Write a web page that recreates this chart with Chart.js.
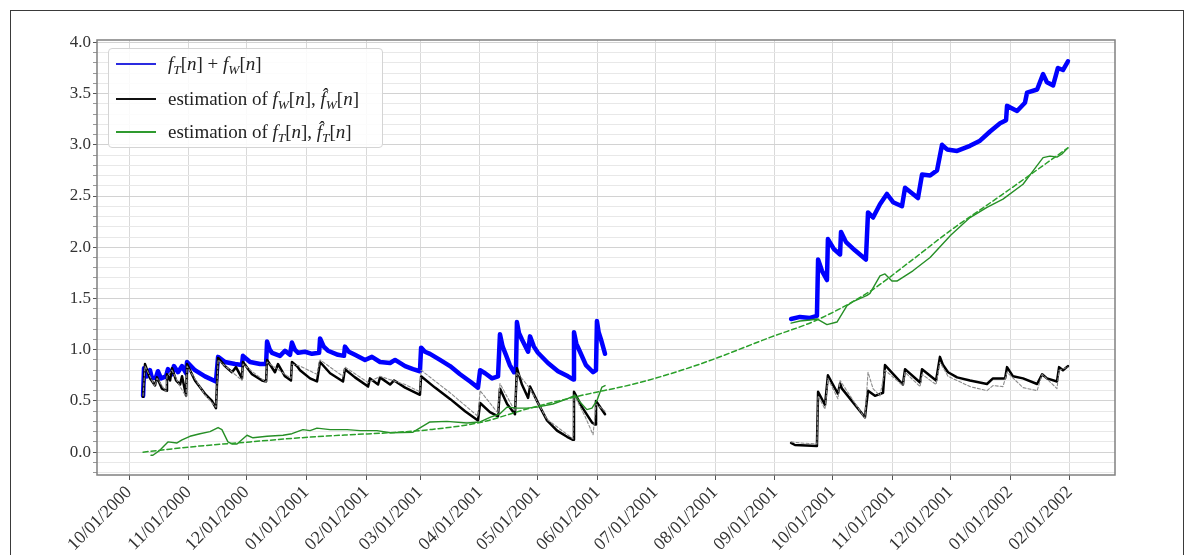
<!DOCTYPE html>
<html>
<head>
<meta charset="utf-8">
<title>f_T + f_W decomposition</title>
<script src="https://cdn.jsdelivr.net/npm/chart.js@4.4.0/dist/chart.umd.min.js"></script>
<style>
  html, body { margin: 0; padding: 0; background: #fff; }
  #wrap { position: relative; width: 1194px; height: 555px; overflow: hidden; }
  #frame { position: absolute; left: 10px; top: 10px; width: 1174px; height: 620px;
           border: 1.5px solid #3a3a3a; box-sizing: border-box; }
  #chart { position: absolute; left: 0; top: 0; }
  #legend { position: absolute; left: 108px; top: 48px; width: 275px; height: 100px;
            border: 1px solid #d4d4d4; border-radius: 4px; background: rgba(255,255,255,0.85);
            font-family: "Liberation Serif", serif; font-size: 19px; color: #222; box-sizing: border-box; }
  #legend .row { position: absolute; left: 0; height: 24px; line-height: 24px; white-space: nowrap; }
  #legend .swatch { position: absolute; left: 7px; top: 11px; width: 40px; height: 1.5px; }
  #legend .lbl { position: absolute; left: 59px; top: 0; }
  #legend sub { font-size: 0.7em; vertical-align: -0.3em; line-height: 0; }
</style>
</head>
<body>
<div id="wrap">
  <div id="frame"></div>
  <canvas id="chart" width="1194" height="555"></canvas>
  <div id="legend">
    <div class="row" style="top:3px"><span class="swatch" style="background:#2b2be0"></span>
      <span class="lbl"><i>f</i><sub><i>T</i></sub>[<i>n</i>] + <i>f</i><sub><i>W</i></sub>[<i>n</i>]</span></div>
    <div class="row" style="top:38px"><span class="swatch" style="background:#111"></span>
      <span class="lbl">estimation of <i>f</i><sub><i>W</i></sub>[<i>n</i>], <i>f&#770;</i><sub><i>W</i></sub>[<i>n</i>]</span></div>
    <div class="row" style="top:71px"><span class="swatch" style="background:#2f9a2f"></span>
      <span class="lbl">estimation of <i>f</i><sub><i>T</i></sub>[<i>n</i>], <i>f&#770;</i><sub><i>T</i></sub>[<i>n</i>]</span></div>
  </div>
</div>
<script>
// x values are days counted from 10/01/2000
const xTickLabels = ["10/01/2000", "11/01/2000", "12/01/2000", "01/01/2001", "02/01/2001",
  "03/01/2001", "04/01/2001", "05/01/2001", "06/01/2001", "07/01/2001", "08/01/2001",
  "09/01/2001", "10/01/2001", "11/01/2001", "12/01/2001", "01/01/2002", "02/01/2002"];
const yTickLabels = ["0.0", "0.5", "1.0", "1.5", "2.0", "2.5", "3.0", "3.5", "4.0"];

// f_T[n] + f_W[n]  (blue)
const sumPart1 = [[7.3,0.55],[7.8,0.82],[9.3,0.74],[10.9,0.80],[11.9,0.72],[14.0,0.73],[15.0,0.79],[16.6,0.72],
  [19.2,0.74],[20.2,0.81],[22.3,0.76],[23.3,0.84],[25.4,0.78],[27.5,0.84],[29.6,0.77],[30.1,0.88],[34.2,0.80],
  [39.4,0.74],[45.1,0.69],[46.2,0.93],[49.8,0.88],[55.0,0.86],[58.6,0.85],[59.1,0.94],[62.8,0.88],[68.0,0.86],
  [71.1,0.86],[71.6,1.08],[73.0,1.00],[74.2,0.97],[78.3,0.94],[80.9,0.99],[83.5,0.95],[84.5,1.07],[86.0,1.00],
  [87.7,0.97],[91.3,0.98],[94.9,0.96],[98.6,0.97],[99.1,1.11],[101.0,1.03],[103.2,0.99],[108.4,0.95],[111.5,0.94],
  [112.0,1.03],[114.0,0.98],[117.2,0.95],[122.4,0.90],[126.0,0.93],[130.2,0.88],[135.4,0.87],[138.0,0.90],
  [143.2,0.84],[147.3,0.81],[150.9,0.79],[151.5,1.02],[153.5,0.98],[156.1,0.96],[161.3,0.90],[166.5,0.84],
  [171.7,0.76],[176.9,0.69],[181.0,0.63],[182.1,0.80],[184.7,0.77],[188.3,0.72],[191.4,0.74],[192.4,1.15],
  [193.8,1.03],[195.5,0.95],[197.5,0.85],[199.7,0.78],[200.7,0.80],[201.2,1.27],[202.3,1.16],[203.8,1.10],
  [207.0,0.98],[208.0,1.13],[210.0,1.03],[212.1,0.97],[217.3,0.87],[222.5,0.79],[227.7,0.74],[230.3,0.71],
  [230.8,1.17],[232.0,1.06],[233.9,0.98],[237.0,0.85],[240.7,0.78],[242.2,0.80],[242.7,1.28],[243.6,1.17],
  [244.8,1.10],[246.9,0.96]];
const sumPart2 = [[343.4,1.30],[348.0,1.32],[353.2,1.31],[356.8,1.33],[357.4,1.88],[359.4,1.77],[362.0,1.68],
  [362.5,2.08],[365.7,1.98],[368.8,1.93],[369.3,2.15],[371.9,2.05],[376.5,1.97],[382.2,1.88],[383.3,2.34],
  [385.9,2.29],[389.5,2.42],[393.1,2.52],[396.3,2.44],[400.9,2.40],[402.5,2.58],[406.6,2.52],[409.2,2.48],
  [411.3,2.71],[415.5,2.70],[419.1,2.75],[421.7,3.00],[424.3,2.955],[429.5,2.94],[436.2,2.99],[441.4,3.04],
  [446.6,3.13],[451.8,3.21],[454.9,3.24],[455.4,3.38],[460.6,3.33],[464.7,3.41],[465.8,3.51],[471.0,3.54],
  [474.1,3.69],[476.1,3.61],[479.3,3.58],[481.8,3.75],[484.4,3.73],[487.0,3.815]];

// estimation of f_W[n] (black)
const estWPart1 = [[7.3,0.54],[8.3,0.86],[10.9,0.72],[13.5,0.65],[14.5,0.73],[17.1,0.62],[19.2,0.60],[19.7,0.76],
  [21.3,0.70],[22.3,0.82],[24.4,0.70],[26.5,0.66],[27.5,0.74],[29.6,0.55],[30.1,0.86],[34.2,0.70],[39.4,0.57],
  [43.0,0.50],[45.1,0.43],[46.2,0.92],[49.8,0.84],[53.4,0.78],[55.5,0.83],[58.6,0.72],[59.1,0.88],[63.8,0.76],
  [69.0,0.70],[71.1,0.69],[71.6,0.90],[75.7,0.78],[77.3,0.86],[80.9,0.74],[84.0,0.70],[84.5,0.88],[87.1,0.84],
  [88.7,0.80],[93.9,0.72],[97.5,0.69],[99.1,0.88],[104.3,0.77],[111.0,0.69],[112.0,0.81],[117.2,0.73],
  [124.0,0.64],[125.0,0.72],[129.2,0.66],[130.2,0.73],[135.4,0.66],[137.5,0.70],[143.2,0.63],[150.9,0.56],
  [151.5,0.74],[158.7,0.63],[166.5,0.52],[174.3,0.40],[181.0,0.31],[182.1,0.48],[187.2,0.39],[191.4,0.35],
  [192.4,0.62],[196.1,0.47],[200.2,0.37],[201.2,0.82],[203.8,0.66],[207.0,0.53],[208.0,0.64],[213.2,0.44],
  [216.8,0.31],[222.0,0.21],[227.2,0.15],[230.3,0.12],[230.8,0.59],[235.0,0.44],[240.1,0.29],[241.7,0.27],
  [242.2,0.50],[246.9,0.37]];
const estWPart2 = [[343.4,0.09],[345.4,0.07],[356.8,0.06],[357.4,0.59],[361.0,0.46],[362.5,0.75],[367.7,0.57],
  [368.8,0.67],[369.8,0.62],[381.7,0.34],[383.3,0.60],[386.9,0.55],[391.1,0.58],[392.1,0.85],[401.4,0.66],
  [402.5,0.81],[410.3,0.68],[411.3,0.81],[418.6,0.70],[420.6,0.93],[422.2,0.85],[424.8,0.78],[429.5,0.73],
  [436.2,0.70],[445.0,0.665],[448.1,0.72],[454.4,0.72],[455.4,0.83],[458.5,0.74],[463.7,0.72],[471.0,0.665],
  [473.6,0.76],[476.1,0.72],[481.3,0.69],[482.4,0.83],[484.4,0.80],[487.0,0.84]];

// f_W[n] (grey dashed)
const trueWPart1 = [[7.3,0.55],[8.3,0.84],[13.5,0.64],[14.5,0.72],[19.2,0.59],[19.7,0.74],[22.3,0.80],[26.5,0.64],
  [29.6,0.54],[30.1,0.84],[39.4,0.56],[45.1,0.44],[46.2,0.90],[58.6,0.70],[59.1,0.86],[71.1,0.68],[71.6,0.88],
  [84.0,0.72],[84.5,0.86],[88.7,0.84],[97.5,0.76],[99.1,0.90],[111.0,0.74],[112.0,0.83],[124.0,0.68],
  [130.2,0.74],[143.2,0.66],[150.9,0.59],[151.5,0.80],[166.5,0.58],[181.0,0.35],[182.1,0.60],[191.4,0.38],
  [192.4,0.67],[200.2,0.40],[201.2,0.78],[208.0,0.62],[216.8,0.32],[230.3,0.13],[230.8,0.56],[236.5,0.35],
  [240.7,0.17],[242.2,0.47],[246.9,0.40]];
const trueWPart2 = [[343.4,0.10],[348.0,0.09],[356.8,0.08],[357.4,0.55],[361.0,0.42],[362.5,0.72],[367.7,0.52],
  [368.8,0.70],[381.7,0.33],[383.3,0.78],[385.9,0.62],[389.5,0.55],[392.1,0.80],[401.4,0.65],[402.5,0.78],
  [410.3,0.64],[411.3,0.76],[418.6,0.66],[420.6,0.88],[424.8,0.74],[436.2,0.64],[445.0,0.60],[448.1,0.65],
  [453.3,0.64],[455.4,0.78],[463.7,0.63],[471.0,0.60],[473.6,0.76],[481.3,0.62],[482.4,0.80],[487.0,0.83]];

// estimation of f_T[n] (green solid)
const estTPart1 = [[11.4,-0.03],[12.4,-0.03],[16.1,0.02],[20.2,0.10],[24.9,0.09],[27.5,0.12],[31.6,0.155],
  [36.8,0.18],[42.0,0.20],[46.2,0.24],[48.2,0.22],[51.3,0.10],[53.4,0.08],[56.0,0.08],[61.2,0.165],[64.3,0.14],
  [71.6,0.155],[79.9,0.165],[84.5,0.18],[90.2,0.22],[93.9,0.21],[97.5,0.235],[104.3,0.22],[113.1,0.22],
  [119.8,0.21],[128.6,0.21],[135.4,0.19],[147.3,0.195],[152.0,0.25],[156.1,0.295],[164.9,0.30],[175.3,0.285],
  [182.1,0.295],[187.2,0.34],[192.4,0.375],[196.1,0.44],[201.2,0.43],[206.4,0.43],[211.6,0.44],[219.9,0.47],
  [227.2,0.52],[231.3,0.555],[233.9,0.49],[237.5,0.415],[240.1,0.43],[242.7,0.505],[245.3,0.635],[246.9,0.65]];
const estTPart2 = [[343.4,1.26],[348.0,1.28],[353.2,1.29],[356.8,1.30],[362.0,1.245],[367.2,1.27],[372.4,1.43],
  [375.5,1.47],[382.8,1.53],[384.3,1.55],[389.5,1.72],[392.1,1.74],[395.7,1.67],[398.3,1.67],[406.6,1.77],
  [415.5,1.90],[426.3,2.12],[436.2,2.29],[445.0,2.39],[453.3,2.47],[463.7,2.615],[468.9,2.745],[474.1,2.875],
  [477.7,2.89],[481.3,2.88],[483.9,2.91],[487.0,2.97]];

// f_T[n] (green dashed)
const trueT = [[7.3,0.00],[36.8,0.06],[62.8,0.10],[88.7,0.14],[114.6,0.17],[135.4,0.19],[156.1,0.22],[182.1,0.29],
  [208.0,0.43],[233.9,0.55],[265.0,0.68],[296.2,0.86],[332.5,1.12],[356.8,1.29],[384.3,1.57],[405.1,1.86],
  [425.8,2.16],[451.8,2.50],[487.0,2.97]];

function toPoints(parts) {
  const out = [];
  parts.forEach((part, i) => {
    if (i > 0) out.push({ x: (parts[i - 1][parts[i - 1].length - 1][0] + part[0][0]) / 2, y: null });
    part.forEach((p) => out.push({ x: p[0], y: p[1] }));
  });
  return out;
}

const day0 = Date.UTC(2000, 9, 1);
const xTickDays = xTickLabels.map((s) => {
  const [m, d, y] = s.split("/").map(Number);
  return (Date.UTC(y, m - 1, d) - day0) / 86400000;
});
const yMajor = yTickLabels.map(Number);

const frameBox = {
  id: "frameBox",
  afterDatasetsDraw(chart) {
    const a = chart.chartArea;
    const ctx = chart.ctx;
    ctx.save();
    ctx.strokeStyle = "#808080";
    ctx.lineWidth = 1.5;
    ctx.strokeRect(a.left, a.top, a.right - a.left, a.bottom - a.top);
    ctx.restore();
  },
};

Chart.defaults.font.family = "'Liberation Serif', serif";
Chart.defaults.color = "#333";

new Chart(document.getElementById("chart"), {
  type: "line",
  data: {
    datasets: [
      { data: toPoints([trueT]), borderColor: "#2aa02a", borderWidth: 1.5, borderDash: [5, 3],
        cubicInterpolationMode: "monotone", order: 1 },
      { data: toPoints([estTPart1, estTPart2]), borderColor: "#268f26", borderWidth: 1.4, order: 2 },
      { data: toPoints([trueWPart1, trueWPart2]), borderColor: "#8c8c8c", borderWidth: 1.1, borderDash: [3, 2], order: 3 },
      { data: toPoints([estWPart1, estWPart2]), borderColor: "#000", borderWidth: 2.5, order: 4 },
      { data: toPoints([sumPart1, sumPart2]), borderColor: "#0000ff", borderWidth: 4.5, order: 5 },
    ],
  },
  options: {
    responsive: false,
    animation: false,
    spanGaps: false,
    layout: { padding: { left: 0, top: 40, right: 79, bottom: 0 } },
    elements: {
      point: { radius: 0 },
      line: { tension: 0, borderJoinStyle: "round", borderCapStyle: "round" },
    },
    plugins: { legend: { display: false }, tooltip: { enabled: false } },
    scales: {
      x: {
        type: "linear",
        min: -16.6,
        max: 511.4,
        afterFit(scale) { scale.height = 80; },
        afterBuildTicks(scale) { scale.ticks = xTickDays.map((v) => ({ value: v })); },
        border: { display: false },
        grid: { color: "#d9d9d9", borderDash: [3, 3], tickColor: "#555", tickLength: 5,
                tickBorderDash: [] },
        ticks: {
          autoSkip: false, minRotation: 45, maxRotation: 45, padding: 2,
          font: { size: 18 }, color: "#333",
          callback: (v, i) => xTickLabels[i],
        },
      },
      y: {
        min: -0.223,
        max: 4.023,
        afterFit(scale) { scale.width = 97; },
        afterBuildTicks(scale) {
          const t = [];
          for (let k = -2; k <= 40; k++) t.push({ value: k / 10 });
          scale.ticks = t;
        },
        border: { display: false },
        grid: {
          borderDash: [3, 3],
          color: (c) => (yMajor.some((m) => Math.abs(m - c.tick.value) < 1e-6) ? "#d2d2d2" : "#e8e8e8"),
          tickColor: (c) => (yMajor.some((m) => Math.abs(m - c.tick.value) < 1e-6) ? "#555" : "#999"),
          tickLength: 4,
          tickBorderDash: [],
        },
        ticks: {
          autoSkip: false, padding: 2, font: { size: 17 }, color: "#333",
          callback: (v) => {
            const i = yMajor.findIndex((m) => Math.abs(m - v) < 1e-6);
            return i >= 0 ? yTickLabels[i] : "";
          },
        },
      },
    },
  },
  plugins: [frameBox],
});
</script>
</body>
</html>
